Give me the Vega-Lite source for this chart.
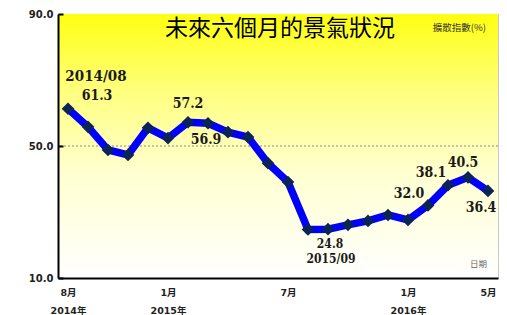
{
  "$schema": "https://vega.github.io/schema/vega-lite/v6.json",
  "width": 440,
  "height": 264,
  "autosize": "none",
  "padding": {"left": 58, "top": 14, "right": 9, "bottom": 37},
  "background": "white",
  "config": {"view": {"stroke": "#c8c8c8", "strokeWidth": 1}},
  "data": {"values": [
    {"month": "2014/08", "value": 61.3},
    {"month": "2014/09", "value": 55.8},
    {"month": "2014/10", "value": 48.8},
    {"month": "2014/11", "value": 47.3},
    {"month": "2014/12", "value": 55.5},
    {"month": "2015/01", "value": 52.4},
    {"month": "2015/02", "value": 57.2},
    {"month": "2015/03", "value": 56.9},
    {"month": "2015/04", "value": 54.2},
    {"month": "2015/05", "value": 52.7},
    {"month": "2015/06", "value": 44.8},
    {"month": "2015/07", "value": 39.1},
    {"month": "2015/08", "value": 24.7},
    {"month": "2015/09", "value": 24.8},
    {"month": "2015/10", "value": 26.1},
    {"month": "2015/11", "value": 27.3},
    {"month": "2015/12", "value": 29.1},
    {"month": "2016/01", "value": 27.6},
    {"month": "2016/02", "value": 32.0},
    {"month": "2016/03", "value": 38.1},
    {"month": "2016/04", "value": 40.5},
    {"month": "2016/05", "value": 36.4}
  ]},
  "layer": [
    {
      "data": {"values": [{}]},
      "mark": {"type": "rect", "fill": {"gradient": "linear", "x1": 0, "y1": 0, "x2": 0, "y2": 1, "stops": [{"offset": 0, "color": "#ffff10"}, {"offset": 0.3, "color": "#ffff80"}, {"offset": 0.6, "color": "#ffffd0"}, {"offset": 1, "color": "#ffffff"}]}},
      "encoding": {"x": {"value": 0}, "x2": {"value": "width"}, "y": {"value": 0}, "y2": {"value": "height"}}
    },
    {
      "data": {"values": [{}]},
      "mark": {"type": "rule", "color": "#888888", "strokeWidth": 1, "strokeDash": [2, 2]},
      "encoding": {"y": {"datum": 50, "scale": {"domain": [10, 90]}}}
    },
    {
      "mark": {"type": "line", "color": "#0000ff", "strokeWidth": 7.5},
      "encoding": {
        "x": {"field": "month", "type": "ordinal", "sort": null, "scale": {"type": "point", "padding": 0.5},
          "axis": {"values": ["2014/08", "2015/01", "2015/07", "2016/01", "2016/05"],
            "labelExpr": "datum.value == '2014/08' ? ['8月', '2014年'] : datum.value == '2015/01' ? ['1月', '2015年'] : datum.value == '2015/07' ? '7月' : datum.value == '2016/01' ? ['1月', '2016年'] : datum.value == '2016/05' ? '5月' : ''",
            "ticks": false, "grid": false, "domainColor": "#000000", "domainWidth": 2, "labelAngle": 0, "labelOverlap": false,
            "labelFont": "DejaVu Sans, Noto Sans CJK TC", "labelFontWeight": "bold", "labelFontSize": 9.5, "labelColor": "#222222",
            "labelPadding": 9, "labelLineHeight": 18, "title": null, "zindex": 1}},
        "y": {"field": "value", "type": "quantitative", "scale": {"domain": [10, 90]},
          "axis": {"values": [10, 50, 90], "format": ".1f", "grid": false, "domainColor": "#000000", "domainWidth": 2,
            "tickColor": "#000000", "tickWidth": 2, "tickSize": -5,
            "labelFont": "DejaVu Sans", "labelFontWeight": "bold", "labelFontSize": 10, "labelColor": "#222222",
            "labelPadding": 10, "title": null, "zindex": 1}}
      }
    },
    {
      "mark": {"type": "point", "shape": "diamond", "filled": true, "color": "#0a2458", "size": 160, "opacity": 1},
      "encoding": {"x": {"field": "month", "type": "ordinal", "sort": null}, "y": {"field": "value", "type": "quantitative"}}
    },
    {
      "transform": [{"filter": "datum.month == '2014/08'"}],
      "mark": {"type": "text", "font": "DejaVu Serif Condensed, Liberation Serif, serif", "fontWeight": "bold", "fontSize": 15, "color": "#1a1a1a", "dx": 28, "dy": -33},
      "encoding": {"x": {"field": "month", "type": "ordinal", "sort": null}, "y": {"field": "value", "type": "quantitative"}, "text": {"field": "month"}}
    },
    {
      "transform": [{"filter": "datum.month == '2014/08'"}],
      "mark": {"type": "text", "font": "DejaVu Serif Condensed, Liberation Serif, serif", "fontWeight": "bold", "fontSize": 14, "color": "#1a1a1a", "dx": 29, "dy": -13},
      "encoding": {"x": {"field": "month", "type": "ordinal", "sort": null}, "y": {"field": "value", "type": "quantitative"}, "text": {"field": "value", "format": ".1f"}}
    },
    {
      "transform": [{"filter": "datum.month == '2015/02'"}],
      "mark": {"type": "text", "font": "DejaVu Serif Condensed, Liberation Serif, serif", "fontWeight": "bold", "fontSize": 14, "color": "#1a1a1a", "dx": 0, "dy": -18},
      "encoding": {"x": {"field": "month", "type": "ordinal", "sort": null}, "y": {"field": "value", "type": "quantitative"}, "text": {"field": "value", "format": ".1f"}}
    },
    {
      "transform": [{"filter": "datum.month == '2015/03'"}],
      "mark": {"type": "text", "font": "DejaVu Serif Condensed, Liberation Serif, serif", "fontWeight": "bold", "fontSize": 14, "color": "#1a1a1a", "dx": -2, "dy": 17},
      "encoding": {"x": {"field": "month", "type": "ordinal", "sort": null}, "y": {"field": "value", "type": "quantitative"}, "text": {"field": "value", "format": ".1f"}}
    },
    {
      "transform": [{"filter": "datum.month == '2015/09'"}],
      "mark": {"type": "text", "font": "DejaVu Serif Condensed, Liberation Serif, serif", "fontWeight": "bold", "fontSize": 12, "color": "#1a1a1a", "dx": 2, "dy": 15},
      "encoding": {"x": {"field": "month", "type": "ordinal", "sort": null}, "y": {"field": "value", "type": "quantitative"}, "text": {"field": "value", "format": ".1f"}}
    },
    {
      "transform": [{"filter": "datum.month == '2015/09'"}],
      "mark": {"type": "text", "font": "DejaVu Serif Condensed, Liberation Serif, serif", "fontWeight": "bold", "fontSize": 12, "color": "#1a1a1a", "dx": 3, "dy": 30},
      "encoding": {"x": {"field": "month", "type": "ordinal", "sort": null}, "y": {"field": "value", "type": "quantitative"}, "text": {"field": "month"}}
    },
    {
      "transform": [{"filter": "datum.month == '2016/02'"}],
      "mark": {"type": "text", "font": "DejaVu Serif Condensed, Liberation Serif, serif", "fontWeight": "bold", "fontSize": 14, "color": "#1a1a1a", "dx": -19, "dy": -11},
      "encoding": {"x": {"field": "month", "type": "ordinal", "sort": null}, "y": {"field": "value", "type": "quantitative"}, "text": {"field": "value", "format": ".1f"}}
    },
    {
      "transform": [{"filter": "datum.month == '2016/03'"}],
      "mark": {"type": "text", "font": "DejaVu Serif Condensed, Liberation Serif, serif", "fontWeight": "bold", "fontSize": 14, "color": "#1a1a1a", "dx": -17, "dy": -12},
      "encoding": {"x": {"field": "month", "type": "ordinal", "sort": null}, "y": {"field": "value", "type": "quantitative"}, "text": {"field": "value", "format": ".1f"}}
    },
    {
      "transform": [{"filter": "datum.month == '2016/04'"}],
      "mark": {"type": "text", "font": "DejaVu Serif Condensed, Liberation Serif, serif", "fontWeight": "bold", "fontSize": 14, "color": "#1a1a1a", "dx": -5, "dy": -14},
      "encoding": {"x": {"field": "month", "type": "ordinal", "sort": null}, "y": {"field": "value", "type": "quantitative"}, "text": {"field": "value", "format": ".1f"}}
    },
    {
      "transform": [{"filter": "datum.month == '2016/05'"}],
      "mark": {"type": "text", "font": "DejaVu Serif Condensed, Liberation Serif, serif", "fontWeight": "bold", "fontSize": 14, "color": "#1a1a1a", "dx": -7, "dy": 17},
      "encoding": {"x": {"field": "month", "type": "ordinal", "sort": null}, "y": {"field": "value", "type": "quantitative"}, "text": {"field": "value", "format": ".1f"}}
    },
    {
      "data": {"values": [{"label": "未來六個月的景氣狀況"}]},
      "mark": {"type": "text", "font": "Noto Sans CJK TC", "fontSize": 23, "color": "#000000", "align": "center", "baseline": "middle", "dx": -8, "dy": 15},
      "encoding": {"x": {"datum": "2015/07", "type": "ordinal"}, "y": {"datum": 90, "type": "quantitative"}, "text": {"field": "label"}}
    },
    {
      "data": {"values": [{"label": "擴散指數(%)"}]},
      "mark": {"type": "text", "font": "Noto Sans CJK TC", "fontSize": 9.5, "color": "#333333", "align": "right", "baseline": "middle", "dx": -2, "dy": 14},
      "encoding": {"x": {"datum": "2016/05", "type": "ordinal"}, "y": {"datum": 90, "type": "quantitative"}, "text": {"field": "label"}}
    },
    {
      "data": {"values": [{"label": "日期"}]},
      "mark": {"type": "text", "font": "Noto Sans CJK TC", "fontSize": 8.5, "color": "#666666", "align": "right", "baseline": "middle", "dx": -1, "dy": -14},
      "encoding": {"x": {"datum": "2016/05", "type": "ordinal"}, "y": {"datum": 10, "type": "quantitative"}, "text": {"field": "label"}}
    }
  ]
}
